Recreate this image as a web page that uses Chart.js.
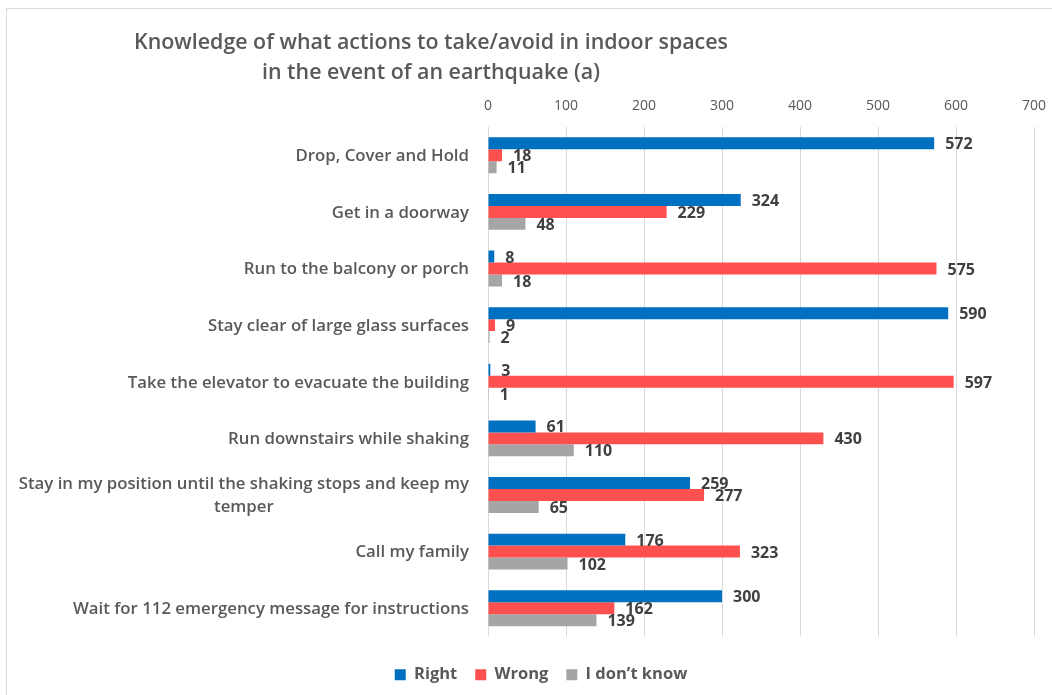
<!DOCTYPE html>
<html>
<head>
<meta charset="utf-8">
<script src="https://cdn.jsdelivr.net/npm/chart.js@4"></script>
<style>
  html, body { margin: 0; padding: 0; background: #ffffff; }
  #wrap { width: 1052px; height: 695px; }
</style>
</head>
<body>
<div id="wrap"><canvas id="c" width="1052" height="695"></canvas></div>
<script>
// Survey answers: what to do / not do indoors during an earthquake
const categories = [
  "Drop, Cover and Hold",
  "Get in a doorway",
  "Run to the balcony or porch",
  "Stay clear of large glass surfaces",
  "Take the elevator to evacuate the building",
  "Run downstairs while shaking",
  ["Stay in my position until the shaking stops and keep my", "temper"],
  "Call my family",
  "Wait for 112 emergency message for instructions"
];
const rightValues   = [572, 324, 8, 590, 3, 61, 259, 176, 300];
const wrongValues   = [18, 229, 575, 9, 597, 430, 277, 323, 162];
const unknownValues = [11, 48, 18, 2, 1, 110, 65, 102, 139];
const seriesNames = ["Right", "Wrong", "I don\u2019t know"];
const xTicks = [0, 100, 200, 300, 400, 500, 600, 700];
const titleLines = [
  "Knowledge of what actions to take/avoid in indoor spaces",
  "in the event of an earthquake (a)"
];

const TEXT = '#595959';
const FONT = '"Open Sans", "DejaVu Sans", sans-serif';

// Light frame around the whole chart
const framePlugin = {
  id: 'frame',
  beforeDraw(chart) {
    const ctx = chart.ctx;
    ctx.save();
    ctx.fillStyle = '#ffffff';
    ctx.fillRect(0, 0, chart.width, chart.height);
    ctx.strokeStyle = '#D9D9D9';
    ctx.lineWidth = 1;
    ctx.strokeRect(6.5, 8.5, chart.width + 20, chart.height + 20);
    ctx.restore();
  }
};

// Push the legend row a little further below the plot
const legendShiftPlugin = {
  id: 'legendShift',
  afterLayout(chart) {
    if (chart.legend) {
      chart.legend.top += 12;
      chart.legend.bottom += 12;
    }
  }
};

// Two-line title, centred over the left part of the chart
const titlePlugin = {
  id: 'sideTitle',
  afterDraw(chart) {
    const ctx = chart.ctx;
    ctx.save();
    ctx.font = '600 21.4px ' + FONT;
    ctx.fillStyle = TEXT;
    ctx.textAlign = 'center';
    ctx.textBaseline = 'middle';
    titleLines.forEach((t, i) => ctx.fillText(t, 431, 43 + i * 30));
    ctx.restore();
  }
};

// Category names, right aligned to the axis; wrapped names centred within their block
const categoryLabelPlugin = {
  id: 'categoryLabels',
  afterDraw(chart) {
    const ctx = chart.ctx;
    const yScale = chart.scales.y;
    const right = chart.chartArea.left - 19;
    const lh = 23;
    ctx.save();
    ctx.font = '600 16.8px ' + FONT;
    ctx.fillStyle = TEXT;
    ctx.textBaseline = 'middle';
    ctx.textAlign = 'center';
    categories.forEach((lab, i) => {
      const lines = Array.isArray(lab) ? lab : [lab];
      const w = Math.max(...lines.map(l => ctx.measureText(l).width));
      const cx = right - w / 2;
      const yc = yScale.getPixelForValue(i) + 1;
      const y0 = yc - (lines.length - 1) * lh / 2;
      lines.forEach((l, k) => ctx.fillText(l, cx, y0 + k * lh));
    });
    ctx.restore();
  }
};

// Value labels just past the end of each bar
const valueLabelPlugin = {
  id: 'valueLabels',
  afterDatasetsDraw(chart) {
    const ctx = chart.ctx;
    ctx.save();
    ctx.font = 'bold 16px ' + FONT;
    ctx.fillStyle = '#404040';
    ctx.textAlign = 'left';
    ctx.textBaseline = 'middle';
    chart.data.datasets.forEach((ds, di) => {
      const meta = chart.getDatasetMeta(di);
      meta.data.forEach((bar, i) => {
        ctx.fillText(String(ds.data[i]), bar.x + 11, bar.y + 1.5);
      });
    });
    ctx.restore();
  }
};

new Chart(document.getElementById('c'), {
  type: 'bar',
  data: {
    labels: categories,
    datasets: [
      { label: seriesNames[0], data: rightValues,   backgroundColor: '#0070C0' },
      { label: seriesNames[1], data: wrongValues,   backgroundColor: '#FF5050' },
      { label: seriesNames[2], data: unknownValues, backgroundColor: '#A5A5A5' }
    ]
  },
  options: {
    indexAxis: 'y',
    responsive: false,
    animation: false,
    layout: { padding: { top: 90, right: 18, bottom: 14, left: 48 } },
    datasets: { bar: { categoryPercentage: 0.634, barPercentage: 1.0 } },
    scales: {
      x: {
        position: 'top',
        min: 0,
        max: 700,
        afterBuildTicks(scale) { scale.ticks = xTicks.map(v => ({ value: v })); },
        afterFit(scale) {
          scale.height = 37;
          scale.paddingLeft = 0;
          scale.paddingRight = 0;
        },
        ticks: { color: TEXT, font: { family: FONT, size: 14 }, padding: 13 },
        grid: { color: '#D9D9D9', lineWidth: 1, drawTicks: false },
        border: { display: false }
      },
      y: {
        afterFit(scale) { scale.width = 440; },
        ticks: { display: false },
        grid: { display: false },
        border: { display: false }
      }
    },
    plugins: {
      legend: {
        position: 'bottom',
        labels: {
          color: TEXT,
          font: { family: FONT, size: 16.5, weight: 'bold' },
          boxWidth: 11,
          boxHeight: 11,
          padding: 18
        }
      },
      title: { display: false },
      tooltip: { enabled: false }
    }
  },
  plugins: [framePlugin, legendShiftPlugin, titlePlugin, categoryLabelPlugin, valueLabelPlugin]
});
</script>
</body>
</html>
